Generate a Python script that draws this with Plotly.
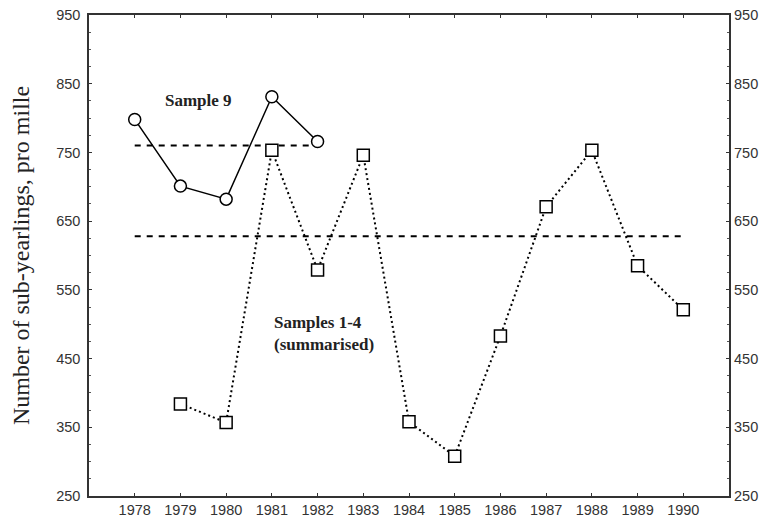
import plotly.graph_objects as go

years9 = [1978, 1979, 1980, 1981, 1982]
sample9 = [798, 701, 682, 831, 766]
years14 = [1979, 1980, 1981, 1982, 1983, 1984, 1985, 1986, 1987, 1988, 1989, 1990]
samples14 = [384, 357, 753, 579, 746, 358, 308, 483, 671, 753, 585, 521]
mean9_x = [1978, 1982]
mean9 = [760, 760]
mean14_x = [1978, 1990]
mean14 = [628, 628]
xticks = list(range(1978, 1991))
yticks = [250, 350, 450, 550, 650, 750, 850, 950]

fig = go.Figure()
fig.add_trace(go.Scatter(x=mean9_x, y=mean9, mode="lines",
                         line=dict(color="black", width=2, dash="6px,6px"), showlegend=False))
fig.add_trace(go.Scatter(x=mean14_x, y=mean14, mode="lines",
                         line=dict(color="black", width=2, dash="6px,6px"), showlegend=False))
fig.add_trace(go.Scatter(x=years14, y=samples14, mode="lines+markers",
                         line=dict(color="black", width=2, dash="2px,3px"),
                         marker=dict(symbol="square", size=12, color="white",
                                     line=dict(color="black", width=1.5)),
                         showlegend=False))
fig.add_trace(go.Scatter(x=years9, y=sample9, mode="lines+markers",
                         line=dict(color="black", width=1.5),
                         marker=dict(symbol="circle", size=12, color="white",
                                     line=dict(color="black", width=1.5)),
                         showlegend=False))
# invisible trace for right axis
fig.add_trace(go.Scatter(x=[1978], y=[600], yaxis="y2", mode="markers",
                         marker=dict(opacity=0), showlegend=False, hoverinfo="skip"))

tickfont = dict(family="Liberation Sans, Arial", size=14.5, color="#333")
fig.update_layout(
    width=767, height=520,
    margin=dict(l=89, r=38, t=15, b=24),
    paper_bgcolor="white", plot_bgcolor="white",
    xaxis=dict(range=[1977, 1991], tickvals=xticks, ticktext=[str(v) for v in xticks],
               showgrid=False, zeroline=False, showline=True, linecolor="#333", linewidth=1.5,
               mirror="ticks", ticks="inside", ticklen=3, tickcolor="#333",
               tickfont=tickfont, ticklabelstandoff=0, automargin=False),
    yaxis=dict(range=[250, 950], tickvals=yticks, showgrid=False, zeroline=False,
               showline=True, linecolor="#333", linewidth=1.5, mirror=True,
               ticks="inside", ticklen=3, tickcolor="#333", tickfont=tickfont,
               ticklabelstandoff=4, automargin=False,
               minor=dict(ticks="inside", dtick=25, tick0=250, ticklen=2, tickcolor="#555"),
               title=dict(text="Number of sub-yearlings, pro mille",
                          font=dict(family="Liberation Serif, Times New Roman", size=24, color="#222"),
                          standoff=20)),
    yaxis2=dict(range=[250, 950], tickvals=yticks, overlaying="y", side="right",
                showgrid=False, zeroline=False, showline=False, automargin=False,
                ticks="inside", ticklen=3, tickcolor="#333", tickfont=tickfont,
                ticklabelstandoff=4,
                minor=dict(ticks="inside", dtick=25, tick0=250, ticklen=2, tickcolor="#555")),
    annotations=[
        dict(x=1979.4, y=826, xref="x", yref="y", text="<b>Sample 9</b>", showarrow=False,
             xanchor="center", font=dict(family="Liberation Serif, Times New Roman", size=17, color="#222")),
        dict(x=1981.0, y=487, xref="x", yref="y", text="<b>Samples 1-4<br>(summarised)</b>",
             showarrow=False, xanchor="left", align="left",
             font=dict(family="Liberation Serif, Times New Roman", size=17, color="#222")),
    ],
)
fig.write_html("out.html")
